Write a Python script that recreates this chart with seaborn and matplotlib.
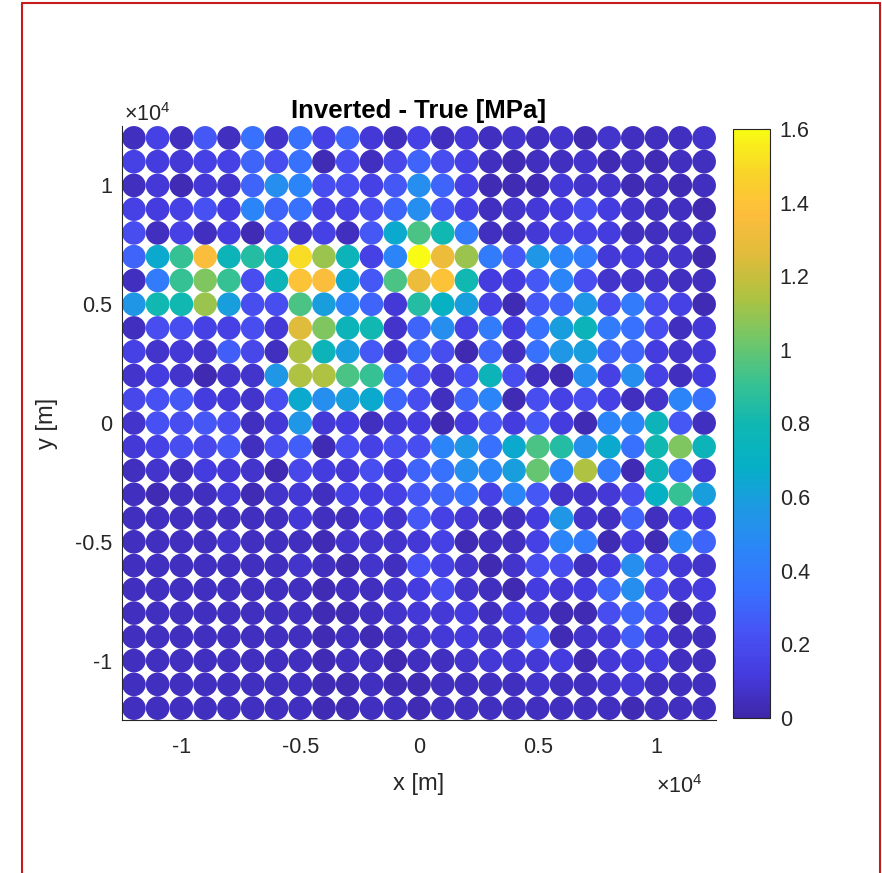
import numpy as np
import pandas as pd
import matplotlib
matplotlib.use("Agg")
import matplotlib.pyplot as plt
import seaborn as sns
from matplotlib.colors import LinearSegmentedColormap, Normalize
from matplotlib.cm import ScalarMappable
from matplotlib.lines import Line2D

# grid of stations (m)
x_pos = [-12000, -11000, -10000, -9000, -8000, -7000, -6000, -5000, -4000, -3000, -2000, -1000, 0,
         1000, 2000, 3000, 4000, 5000, 6000, 7000, 8000, 9000, 10000, 11000, 12000]
y_pos = [12000, 11000, 10000, 9000, 8000, 7000, 6000, 5000, 4000, 3000, 2000, 1000, 0,
         -1000, -2000, -3000, -4000, -5000, -6000, -7000, -8000, -9000, -10000, -11000, -12000]

# Inverted - True difference [MPa], rows top (y=12 km) to bottom, columns left to right
diff = [
    [0.05, 0.15, 0.05, 0.25, 0.05, 0.35, 0.08, 0.35, 0.15, 0.30, 0.10, 0.05, 0.15, 0.05, 0.10, 0.05, 0.08, 0.05, 0.08, 0.03, 0.08, 0.05, 0.05, 0.05, 0.08],
    [0.15, 0.12, 0.10, 0.15, 0.15, 0.30, 0.20, 0.35, 0.03, 0.20, 0.05, 0.18, 0.30, 0.20, 0.15, 0.05, 0.03, 0.05, 0.05, 0.08, 0.03, 0.05, 0.03, 0.05, 0.05],
    [0.05, 0.10, 0.03, 0.10, 0.08, 0.30, 0.50, 0.45, 0.20, 0.20, 0.15, 0.25, 0.50, 0.30, 0.15, 0.03, 0.03, 0.03, 0.10, 0.08, 0.08, 0.03, 0.05, 0.03, 0.05],
    [0.15, 0.12, 0.15, 0.22, 0.12, 0.45, 0.30, 0.35, 0.15, 0.15, 0.20, 0.30, 0.50, 0.25, 0.15, 0.05, 0.08, 0.10, 0.12, 0.20, 0.12, 0.08, 0.05, 0.05, 0.02],
    [0.20, 0.05, 0.15, 0.05, 0.12, 0.03, 0.20, 0.08, 0.15, 0.05, 0.25, 0.65, 0.95, 0.80, 0.40, 0.05, 0.05, 0.10, 0.15, 0.15, 0.12, 0.05, 0.05, 0.05, 0.05],
    [0.30, 0.65, 0.90, 1.35, 0.75, 0.85, 0.75, 1.50, 1.10, 0.75, 0.15, 0.45, 1.60, 1.30, 1.10, 0.40, 0.25, 0.55, 0.45, 0.40, 0.10, 0.12, 0.08, 0.08, 0.02],
    [0.05, 0.40, 0.90, 1.05, 0.90, 0.20, 0.75, 1.40, 1.35, 0.65, 0.25, 0.95, 1.30, 1.40, 0.80, 0.12, 0.12, 0.25, 0.45, 0.20, 0.08, 0.08, 0.08, 0.05, 0.05],
    [0.55, 0.80, 0.80, 1.10, 0.60, 0.20, 0.20, 0.95, 0.60, 0.45, 0.30, 0.10, 0.85, 0.70, 0.60, 0.15, 0.03, 0.25, 0.30, 0.55, 0.20, 0.40, 0.20, 0.15, 0.03],
    [0.05, 0.20, 0.20, 0.15, 0.15, 0.20, 0.10, 1.25, 1.05, 0.75, 0.80, 0.08, 0.30, 0.50, 0.15, 0.40, 0.12, 0.35, 0.60, 0.75, 0.40, 0.35, 0.20, 0.05, 0.10],
    [0.15, 0.08, 0.10, 0.08, 0.28, 0.18, 0.05, 1.15, 0.75, 0.60, 0.25, 0.08, 0.30, 0.20, 0.02, 0.30, 0.05, 0.35, 0.55, 0.60, 0.30, 0.30, 0.12, 0.08, 0.10],
    [0.08, 0.12, 0.08, 0.02, 0.08, 0.08, 0.55, 1.15, 1.15, 0.95, 0.90, 0.30, 0.20, 0.08, 0.22, 0.75, 0.20, 0.05, 0.02, 0.50, 0.15, 0.50, 0.15, 0.05, 0.12],
    [0.18, 0.22, 0.25, 0.12, 0.10, 0.08, 0.20, 0.65, 0.50, 0.60, 0.65, 0.30, 0.20, 0.05, 0.30, 0.45, 0.03, 0.20, 0.15, 0.20, 0.15, 0.05, 0.08, 0.45, 0.35],
    [0.08, 0.22, 0.20, 0.25, 0.20, 0.05, 0.10, 0.55, 0.10, 0.12, 0.05, 0.10, 0.12, 0.02, 0.12, 0.25, 0.12, 0.25, 0.12, 0.03, 0.45, 0.45, 0.75, 0.25, 0.05],
    [0.10, 0.15, 0.20, 0.18, 0.25, 0.05, 0.20, 0.28, 0.03, 0.20, 0.15, 0.20, 0.20, 0.45, 0.55, 0.35, 0.65, 0.95, 0.85, 0.50, 0.65, 0.35, 0.80, 1.05, 0.75],
    [0.05, 0.08, 0.05, 0.12, 0.10, 0.08, 0.02, 0.18, 0.12, 0.10, 0.20, 0.12, 0.30, 0.35, 0.50, 0.45, 0.60, 1.00, 0.45, 1.15, 0.40, 0.03, 0.75, 0.35, 0.10],
    [0.05, 0.03, 0.05, 0.05, 0.10, 0.03, 0.08, 0.10, 0.05, 0.15, 0.12, 0.15, 0.25, 0.30, 0.35, 0.15, 0.45, 0.25, 0.08, 0.08, 0.10, 0.20, 0.70, 0.90, 0.60],
    [0.05, 0.05, 0.05, 0.05, 0.05, 0.05, 0.05, 0.10, 0.05, 0.05, 0.12, 0.08, 0.25, 0.15, 0.10, 0.05, 0.05, 0.12, 0.55, 0.08, 0.05, 0.30, 0.05, 0.12, 0.12],
    [0.05, 0.05, 0.05, 0.05, 0.08, 0.05, 0.05, 0.05, 0.03, 0.08, 0.08, 0.08, 0.10, 0.15, 0.03, 0.05, 0.05, 0.15, 0.45, 0.40, 0.03, 0.12, 0.03, 0.45, 0.30],
    [0.05, 0.05, 0.05, 0.05, 0.05, 0.05, 0.05, 0.08, 0.05, 0.03, 0.08, 0.05, 0.22, 0.15, 0.08, 0.02, 0.08, 0.20, 0.20, 0.05, 0.12, 0.50, 0.20, 0.10, 0.08],
    [0.05, 0.05, 0.05, 0.05, 0.05, 0.05, 0.05, 0.05, 0.03, 0.05, 0.05, 0.08, 0.12, 0.20, 0.08, 0.05, 0.02, 0.12, 0.10, 0.12, 0.30, 0.50, 0.20, 0.10, 0.12],
    [0.05, 0.05, 0.05, 0.05, 0.05, 0.05, 0.05, 0.05, 0.03, 0.03, 0.05, 0.08, 0.10, 0.10, 0.12, 0.05, 0.12, 0.08, 0.03, 0.03, 0.20, 0.30, 0.22, 0.02, 0.08],
    [0.05, 0.05, 0.05, 0.05, 0.05, 0.05, 0.05, 0.05, 0.03, 0.05, 0.03, 0.05, 0.08, 0.10, 0.12, 0.08, 0.10, 0.25, 0.03, 0.08, 0.10, 0.28, 0.12, 0.05, 0.05],
    [0.05, 0.05, 0.05, 0.05, 0.05, 0.05, 0.05, 0.05, 0.03, 0.05, 0.05, 0.02, 0.05, 0.05, 0.08, 0.10, 0.10, 0.10, 0.12, 0.03, 0.10, 0.12, 0.12, 0.05, 0.05],
    [0.05, 0.05, 0.05, 0.05, 0.05, 0.05, 0.05, 0.05, 0.03, 0.03, 0.05, 0.03, 0.03, 0.05, 0.05, 0.05, 0.05, 0.08, 0.05, 0.05, 0.08, 0.10, 0.05, 0.05, 0.05],
    [0.05, 0.05, 0.05, 0.05, 0.05, 0.05, 0.05, 0.05, 0.03, 0.03, 0.05, 0.05, 0.03, 0.05, 0.05, 0.05, 0.05, 0.05, 0.05, 0.05, 0.05, 0.03, 0.05, 0.05, 0.05],
]

xtick_pos = [-10000, -5000, 0, 5000, 10000]
xtick_labels = ['-1', '-0.5', '0', '0.5', '1']
ytick_pos = [-10000, -5000, 0, 5000, 10000]
ytick_labels = ['-1', '-0.5', '0', '0.5', '1']
cbar_ticks = [0, 0.2, 0.4, 0.6, 0.8, 1.0, 1.2, 1.4, 1.6]
cbar_labels = ['0', '0.2', '0.4', '0.6', '0.8', '1', '1.2', '1.4', '1.6']

# parula-like colormap
parula_pts = [
    (0.2422, 0.1504, 0.6603), (0.2720, 0.2300, 0.8700), (0.2809, 0.3228, 0.9579),
    (0.2200, 0.4400, 0.9950), (0.1700, 0.5250, 0.9700), (0.1180, 0.6020, 0.8900),
    (0.0200, 0.6900, 0.7750), (0.0641, 0.7198, 0.6960), (0.2266, 0.7592, 0.5689),
    (0.4479, 0.7784, 0.4110), (0.6813, 0.7632, 0.2546), (0.8800, 0.7350, 0.2300),
    (0.9951, 0.7427, 0.2368), (0.9715, 0.8346, 0.1585), (0.9769, 0.9839, 0.0805),
]
parula = LinearSegmentedColormap.from_list('parula', parula_pts)

sns.set_style("white")
plt.rcParams['font.family'] = ['Liberation Sans', 'DejaVu Sans']
plt.rcParams['mathtext.fontset'] = 'custom'
plt.rcParams['mathtext.rm'] = 'Liberation Sans'

XX, YY = np.meshgrid(x_pos, y_pos)
df = pd.DataFrame({'x': XX.ravel(), 'y': YY.ravel(), 'd': np.array(diff).ravel()})

W, H = 882, 873
fig = plt.figure(figsize=(W / 100, H / 100), dpi=100)
ax = fig.add_axes([122 / W, 1 - 720 / H, 594 / W, 594 / H])
cax = fig.add_axes([733 / W, 1 - 718 / H, 37 / W, 589 / H])

norm = Normalize(0, 1.6)
sns.scatterplot(data=df, x='x', y='y', hue='d', palette=parula, hue_norm=norm,
                s=290, linewidth=0, legend=False, ax=ax)

txt = (0.15, 0.15, 0.15)
fs = 15.5
ax.set_xlim(-12500, 12500)
ax.set_ylim(-12500, 12500)
ax.set_xticks(xtick_pos)
ax.set_xticklabels(xtick_labels)
ax.set_yticks(ytick_pos)
ax.set_yticklabels(ytick_labels)
ax.tick_params(direction='in', length=5, width=0.8, colors=txt, labelsize=fs)
ax.tick_params(axis='x', pad=12)
ax.tick_params(axis='y', pad=7)
for s in ['top', 'right']:
    ax.spines[s].set_visible(False)
for s in ['left', 'bottom']:
    ax.spines[s].set_color(txt)
    ax.spines[s].set_linewidth(0.8)
ax.set_xlabel('x [m]', fontsize=17, color=txt, labelpad=11)
ax.set_ylabel('y [m]', fontsize=17, color=txt, labelpad=12)
ax.set_title('Inverted - True [MPa]', fontsize=18.5, fontweight='bold', color='black', pad=6)

fig.text(124 / W, 1 - 121 / H, r'$\times10^{4}$', fontsize=fs, color=txt, va='baseline')
fig.text(656 / W, 1 - 793 / H, r'$\times10^{4}$', fontsize=fs, color=txt, va='baseline')

cb = fig.colorbar(ScalarMappable(norm=norm, cmap=parula), cax=cax)
cb.set_ticks(cbar_ticks)
cb.set_ticklabels(cbar_labels)
cb.ax.tick_params(direction='in', length=5, width=0.8, colors=txt, labelsize=fs, pad=7)
cb.outline.set_edgecolor(txt)
cb.outline.set_linewidth(0.8)

# red frame around the figure panel
red = (0.78, 0.1, 0.1)
fig.add_artist(Line2D([22 / W, 22 / W], [0, 1 - 3 / H], color=red, lw=1.5))
fig.add_artist(Line2D([22 / W, 880 / W], [1 - 3 / H, 1 - 3 / H], color=red, lw=1.5))
fig.add_artist(Line2D([880 / W, 880 / W], [0, 1 - 3 / H], color=red, lw=1.5))

fig.savefig('out.png', dpi=100)
